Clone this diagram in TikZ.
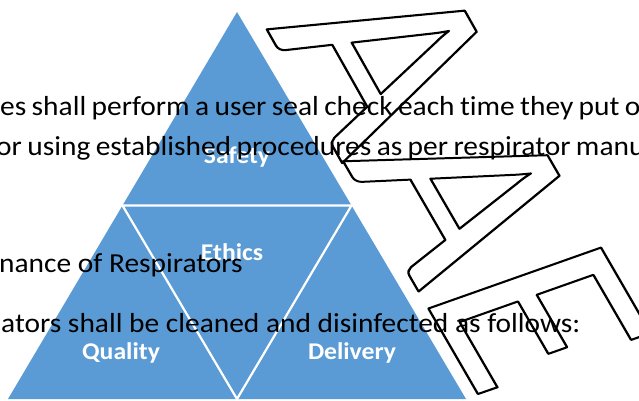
\documentclass[tikz,border=0pt]{standalone}
\usepackage{fontspec}
\setmainfont{Carlito}[FakeStretch=1.07, Ligatures=NoCommon]
\newfontfamily\markfont{Carlito}
\definecolor{triblue}{RGB}{91,155,213}
\newcommand{\hollowtext}[1]{\special{pdf:literal direct 1 Tr 0.8 w 1 j}#1\special{pdf:literal direct 0 Tr}}

\begin{document}
\begin{tikzpicture}[x=1pt, y=-1pt]
    \tikzstyle{every node}=[inner sep=0pt]
    \tikzstyle{tri label}=[text=white, anchor=base, font=\bfseries\fontsize{24}{24}\selectfont]
    \tikzstyle{doc line}=[anchor=base west, font=\fontsize{27.5}{27.5}\selectfont]
    \tikzstyle{tight line}=[doc line, execute at begin node={\spaceskip=5.4pt\relax}]
    \tikzstyle{watermark}=[anchor=base west, transform shape, font=\markfont\fontsize{100}{100}\selectfont]
    \useasboundingbox (0,0) rectangle (639,401);
    \clip (0,0) rectangle (639,401);
    \coordinate (apex) at (237,12);
    \coordinate (left) at (8,399);
    \coordinate (right) at (466,399);
    \coordinate (midl) at (122.5,205.5);
    \coordinate (midr) at (351.5,205.5);
    \coordinate (midb) at (237,399);
    \fill[triblue] (apex) -- (left) -- (right) -- cycle;
    \draw[white, line width=2.2pt] (midl) -- (midr) -- (midb) -- cycle;
    \node [tri label] (safety) at (237,163) {Safety};
    \node [tri label] (ethics) at (232,260) {Ethics};
    \node [tri label] (quality) at (121,359) {Quality};
    \node [tri label] (delivery) at (352,359) {Delivery};
    \begin{scope}[cm={1.32,-2.34,2.59,1.17,(266,28)}]
        \node [watermark] (mark a) at (0,0) {\hollowtext{A}};
    \end{scope}
    \begin{scope}[cm={1.32,-2.28,2.69,0.95,(266,28)}]
        \node [watermark] (mark ae) at (0,0) {\phantom{A}\hollowtext{AE}};
    \end{scope}
    \node [tight line] (line1) at (0,115) {es shall perform a user seal check each time they put o};
    \node [tight line] (line2) at (-4,155) {or using established procedures as per respirator manu};
    \node [doc line] (line3) at (-1,272) {nance of Respirators};
    \node [doc line] (line4) at (1,332) {ators shall be cleaned and disinfected as follows:};
\end{tikzpicture}
\end{document}
